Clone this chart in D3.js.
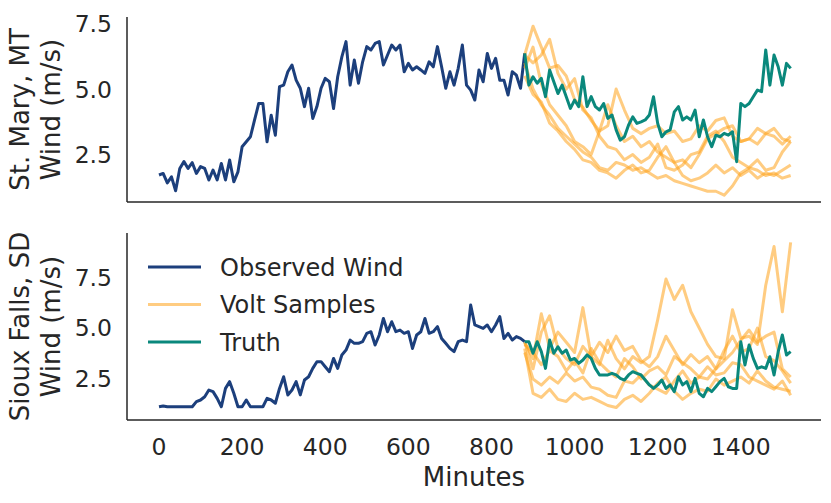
<!DOCTYPE html>
<html>
<head>
<meta charset="utf-8">
<script src="https://cdn.jsdelivr.net/npm/d3@7"></script>
<style>
  body { margin: 0; background: #fff; }
  svg text { font-family: "DejaVu Sans", sans-serif; fill: #262626; }
</style>
</head>
<body>
<div class="chart"></div>
<script>
// Wind observations, Volt samples and truth for two stations.

var obsStep = 10, truthStep = 10, sampleStep = 20, fcStart = 880;

var obsMinutes = d3.range(0, 881, obsStep);
var truthMinutes = d3.range(fcStart, 1521, truthStep);
var sampleMinutes = d3.range(fcStart, 1521, sampleStep);

var xTicks = [0, 200, 400, 600, 800, 1000, 1200, 1400];
var yTicks = [2.5, 5.0, 7.5];

// St. Mary, MT
var maryObserved = [1.72,1.78,1.42,1.65,1.12,1.97,2.23,1.97,2.19,1.78,
  2.04,1.97,1.53,1.91,1.53,2.16,1.53,2.29,1.46,1.84,
  2.80,2.99,3.18,3.82,4.45,4.45,2.99,4.00,3.24,5.09,
  5.15,5.66,5.92,5.34,5.03,4.33,5.03,3.88,4.33,5.03,
  5.41,5.28,4.26,5.47,6.23,6.81,5.15,6.11,5.22,6.04,
  6.62,6.49,6.74,6.81,5.92,6.30,6.68,6.49,6.68,5.66,
  5.98,5.73,5.85,5.73,5.60,6.04,5.85,6.62,5.85,5.03,
  5.66,5.15,5.79,6.68,5.15,4.96,4.58,5.73,5.28,6.36,
  5.79,6.17,5.34,5.34,4.77,5.66,5.53,5.03,6.36];
var maryTruth = [6.36,5.15,
  5.47,5.22,5.41,4.71,5.73,5.28,4.83,5.15,4.71,4.26,
  4.58,4.33,5.47,4.33,4.71,4.33,4.20,4.45,3.88,4.01,
  3.44,3.05,3.18,3.63,3.94,3.69,3.75,3.82,4.01,4.71,
  3.69,3.18,3.37,3.44,4.13,4.33,3.82,3.94,3.82,4.20,
  3.18,3.82,3.18,2.80,3.24,3.18,3.31,3.24,3.37,2.23,
  4.45,4.33,4.45,4.71,4.96,4.90,6.49,5.15,6.30,5.85,
  5.15,5.98,5.79];
var marySamples = [
  [6.3,7.4,6.6,5.8,5.9,5.5,4.6,4.3,3.8,3.4,3.6,5.0,4.2,3.5,3.3,3.5,3.6,3.3,3.4,3.0,3.1,3.6,3.4,3.8,3.9,3.2,3.0,3.1,3.5,3.3,3.2,2.9,3.2],
  [6.3,6.0,6.3,6.9,5.6,5.0,5.4,4.2,3.9,3.2,2.8,2.7,2.3,2.5,2.2,2.4,2.9,2.0,1.9,2.1,2.5,2.6,3.2,3.4,3.0,2.4,2.2,2.0,2.3,1.9,2.0,2.6,3.0],
  [6.0,5.0,4.4,4.0,3.5,3.2,2.9,2.6,2.4,2.0,1.9,2.2,2.1,1.9,2.0,1.8,1.6,1.7,1.5,1.4,1.3,1.2,1.1,1.1,0.95,1.3,1.8,2.0,1.9,1.7,1.8,1.6,1.7],
  [5.5,4.8,4.5,3.7,3.4,3.0,2.7,2.3,2.2,1.9,1.8,1.6,1.9,2.1,1.8,1.9,2.4,2.8,2.2,1.7,1.5,1.6,1.8,2.1,1.8,2.0,1.7,1.9,1.6,1.8,1.7,1.9,2.1],
  [5.8,6.6,5.2,4.4,4.0,3.6,3.0,2.8,2.5,3.4,4.4,3.6,3.0,3.2,2.8,3.0,2.6,2.4,2.2,2.3,2.0,2.5,3.1,3.3,3.5,3.6,3.0,3.1,2.9,3.3,3.5,3.1,3.0]
];

// Sioux Falls, SD
var siouxObserved = [1.14,1.18,1.14,1.14,1.14,1.14,1.14,1.14,1.14,1.39,
  1.47,1.63,1.96,1.88,1.55,1.14,2.04,2.37,1.80,1.14,
  1.14,1.47,1.14,1.14,1.14,1.14,1.55,1.47,1.31,2.04,
  2.61,1.72,1.96,2.37,1.72,2.45,2.61,3.02,3.35,3.35,
  3.10,2.86,3.51,3.02,3.68,3.92,4.41,4.25,4.25,4.33,
  4.74,4.82,4.17,4.66,5.47,4.82,5.31,4.82,4.90,4.74,
  4.82,4.00,4.66,4.82,5.47,4.74,4.82,5.07,4.49,4.25,
  4.00,3.84,4.33,4.41,4.33,6.13,5.15,5.07,4.98,5.15,
  4.82,5.15,5.56,4.49,4.74,4.41,4.58,4.49,4.33];
var siouxTruth = [4.33,4.33,
  3.76,4.33,3.84,3.02,4.41,3.76,4.08,3.76,3.92,3.43,
  3.51,3.27,3.43,3.68,3.51,3.02,2.70,2.70,2.70,2.78,
  2.70,2.53,2.45,2.70,2.86,2.78,2.70,2.45,2.21,2.04,
  2.21,2.45,2.04,2.21,1.88,2.61,2.21,2.37,1.88,2.53,
  1.80,1.63,2.04,1.88,2.12,2.37,2.53,2.12,2.04,2.04,
  4.33,3.19,4.17,3.51,3.02,3.10,3.02,3.59,2.70,3.84,
  4.66,3.68,3.84];
var siouxSamples = [
  [4.3,3.5,5.7,4.0,4.8,4.3,3.8,6.0,3.6,3.2,4.4,3.5,3.0,3.6,3.3,3.6,5.4,7.4,6.4,7.1,5.8,5.0,4.2,3.6,3.5,5.9,4.5,4.6,4.2,7.1,9.0,5.8,9.2],
  [4.3,3.0,4.8,5.6,4.0,3.5,3.2,4.1,3.6,4.3,3.8,4.6,3.9,4.1,3.4,3.1,3.6,4.6,3.9,3.2,3.7,3.3,3.6,3.0,3.4,3.8,4.4,4.9,4.3,4.6,4.8,3.0,2.6],
  [4.0,1.8,1.6,2.0,1.5,1.4,1.8,1.5,1.6,1.4,1.2,1.1,1.5,1.7,1.4,1.8,2.3,2.6,1.9,1.5,1.8,2.0,1.9,2.5,2.2,2.4,2.6,2.3,2.9,2.4,2.1,2.0,1.9],
  [3.8,2.5,2.2,2.6,2.3,2.8,2.4,2.6,2.1,2.0,1.7,1.6,2.4,2.3,2.7,2.2,2.0,1.8,2.4,2.9,2.3,2.6,3.1,2.7,2.8,3.3,3.2,2.6,2.4,2.2,2.0,2.4,1.7],
  [4.2,3.8,3.2,3.9,3.6,2.9,3.4,2.8,4.0,3.3,2.9,2.6,3.5,3.1,2.5,2.9,3.1,2.7,3.6,3.3,3.0,2.6,2.5,3.0,3.9,4.6,3.8,4.0,5.0,3.6,3.4,2.9,2.3]
];

var colors = {observed: "#1c3f7c", samples: "#ffa31a", truth: "#0a887c"};

var width = 831, height = 503,
    left = 127, right = 821,
    svg = d3.select(".chart").append("svg")
      .attr("width", width)
      .attr("height", height);

var x = d3.scaleLinear().domain([-77, 1593]).range([left, right]);

var panels = [
  {label: "St. Mary, MT", top: 17, bottom: 202, domain: [0.69, 7.75],
   observed: maryObserved, truth: maryTruth, samples: marySamples, xLabels: false},
  {label: "Sioux Falls, SD", top: 233, bottom: 420, domain: [0.49, 9.66],
   observed: siouxObserved, truth: siouxTruth, samples: siouxSamples, xLabels: true}
];

panels.forEach(function(p, idx){
  var y = d3.scaleLinear().domain(p.domain).range([p.bottom, p.top]);
  var g = svg.append("g");

  var line = function(minutes){
    return d3.line()
      .x(function(d, i) {return x(minutes[i]);})
      .y(function(d) {return y(d);});
  };

  // y tick labels (no tick marks, seaborn white style)
  g.selectAll(".ytick")
    .data(yTicks)
    .enter().append("text")
      .attr("x", left - 15)
      .attr("y", function(d) {return y(d);})
      .attr("dy", "0.36em")
      .style("text-anchor", "end")
      .style("font-size", "23.5px")
      .text(function(d) {return d3.format(".1f")(d);});

  // y label, two lines
  var cy = (p.top + p.bottom) / 2;
  [[p.label, 29], ["Wind (m/s)", 60]].forEach(function(l){
    g.append("text")
      .attr("transform", "translate(" + l[1] + "," + cy + ") rotate(-90)")
      .style("text-anchor", "middle")
      .style("font-size", "26px")
      .text(l[0]);
  });

  var plot = g.append("g");

  plot.append("path")
    .datum(p.observed)
    .attr("fill", "none")
    .attr("stroke", colors.observed)
    .attr("stroke-width", 3)
    .attr("stroke-linejoin", "round")
    .attr("d", line(obsMinutes));

  plot.selectAll(".sample")
    .data(p.samples)
    .enter().append("path")
      .attr("class", "sample")
      .attr("fill", "none")
      .attr("stroke", colors.samples)
      .attr("stroke-opacity", 0.55)
      .attr("stroke-width", 3)
      .attr("stroke-linejoin", "round")
      .attr("d", line(sampleMinutes));

  plot.append("path")
    .datum(p.truth)
    .attr("fill", "none")
    .attr("stroke", colors.truth)
    .attr("stroke-width", 3)
    .attr("stroke-linejoin", "round")
    .attr("d", line(truthMinutes));

  // spines
  g.append("line")
    .attr("x1", left).attr("x2", left)
    .attr("y1", p.top).attr("y2", p.bottom)
    .attr("stroke", "#262626").attr("stroke-width", 1.5);
  g.append("line")
    .attr("x1", left).attr("x2", right)
    .attr("y1", p.bottom).attr("y2", p.bottom)
    .attr("stroke", "#262626").attr("stroke-width", 1.5);

  if(p.xLabels){
    g.selectAll(".xtick")
      .data(xTicks)
      .enter().append("text")
        .attr("x", function(d) {return x(d);})
        .attr("y", p.bottom + 35)
        .style("text-anchor", "middle")
        .style("font-size", "23.5px")
        .text(function(d) {return d;});

    g.append("text")
      .attr("x", (left + right) / 2)
      .attr("y", 486)
      .style("text-anchor", "middle")
      .style("font-size", "26px")
      .text("Minutes");

    var legendItems = [
      {name: "Observed Wind", color: colors.observed, opacity: 1},
      {name: "Volt Samples", color: colors.samples, opacity: 0.55},
      {name: "Truth", color: colors.truth, opacity: 1}
    ];
    var leg = g.selectAll(".legend")
      .data(legendItems)
      .enter().append("g")
        .attr("class", "legend")
        .attr("transform", function(d, i) {return "translate(0," + (267 + i * 37.5) + ")";});
    leg.append("line")
      .attr("x1", 148).attr("x2", 201)
      .attr("stroke", function(d) {return d.color;})
      .attr("stroke-opacity", function(d) {return d.opacity;})
      .attr("stroke-width", 3);
    leg.append("text")
      .attr("x", 220)
      .attr("dy", "0.36em")
      .style("font-size", "24px")
      .text(function(d) {return d.name;});
  }
});
</script>
</body>
</html>
